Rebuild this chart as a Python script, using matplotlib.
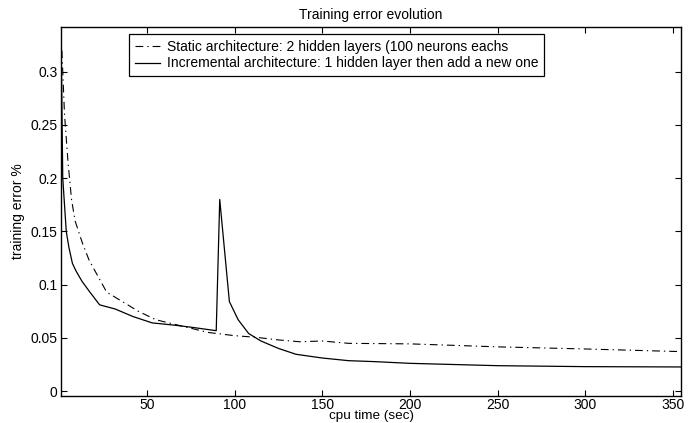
import numpy as np
import matplotlib
matplotlib.use("Agg")
import matplotlib.pyplot as plt

plt.rcParams['font.family'] = ['Liberation Sans', 'DejaVu Sans']

# static architecture (dash-dot)
static_x = [1.5, 3, 5, 7, 9, 13, 17, 22, 27, 36, 45, 55, 70, 85, 100, 112,
            125, 137, 150, 165, 200, 250, 300, 355]
static_y = [0.32, 0.26, 0.215, 0.18, 0.16, 0.14, 0.123, 0.108, 0.093, 0.084,
            0.075, 0.067, 0.061, 0.055, 0.052, 0.0505, 0.048, 0.0463, 0.047,
            0.0448, 0.0443, 0.0415, 0.0395, 0.037]

# incremental architecture (solid)
incr_x = [1.2, 2, 4, 5.5, 7.5, 9.5, 13, 17, 23, 32, 42, 53, 65, 75, 89.5,
          91.5, 97, 102, 108, 115, 125, 135, 150, 165, 180, 200, 250, 300, 355]
incr_y = [0.31, 0.20, 0.15, 0.135, 0.12, 0.113, 0.103, 0.094, 0.081, 0.077,
          0.07, 0.064, 0.062, 0.060, 0.0567, 0.18, 0.084, 0.067, 0.054, 0.047,
          0.04, 0.0345, 0.031, 0.0285, 0.0276, 0.026, 0.0238, 0.0229, 0.0226]

static_label = 'Static architecture: 2 hidden layers (100 neurons eachs'
incr_label = 'Incremental architecture: 1 hidden layer then add a new one'

x_ticks = [50, 100, 150, 200, 250, 300, 350]
y_ticks = [0, 0.05, 0.1, 0.15, 0.2, 0.25, 0.3]
y_ticklabels = ['0', '0.05', '0.1', '0.15', '0.2', '0.25', '0.3']

fs = 10

fig = plt.figure(figsize=(6.94, 4.23), dpi=100)
ax = fig.add_axes([0.0879, 0.0638, 0.8934, 0.8722])

ax.plot(static_x, static_y, color='black', linewidth=0.8,
        dashes=(7, 3.6, 1.2, 3.6), label=static_label)
ax.plot(incr_x, incr_y, color='black', linewidth=0.9, label=incr_label)

ax.set_xlim(1, 354.5)
ax.set_ylim(-0.0047, 0.342)
ax.set_xticks(x_ticks)
ax.set_yticks(y_ticks)
ax.set_yticklabels(y_ticklabels)
ax.tick_params(direction='in', top=True, right=True, length=4, width=0.8,
               labelsize=fs, pad=2.5)
ax.tick_params(axis='x', pad=1.5)
for sp in ax.spines.values():
    sp.set_linewidth(1.0)

ax.set_title('Training error evolution', fontsize=fs, pad=6)
ax.set_xlabel('cpu time (sec)', fontsize=9.7, labelpad=-1.5)
ax.set_ylabel('training error %', fontsize=fs, labelpad=4)

leg = ax.legend(loc='upper left', bbox_to_anchor=(0.1097, 0.981),
                borderaxespad=0, fontsize=fs, fancybox=False, framealpha=1,
                edgecolor='black', handlelength=1.8, handletextpad=0.5,
                labelspacing=0.2, borderpad=0.4)
leg.get_frame().set_linewidth(0.9)

plt.savefig('out.png', dpi=100)
plt.close(fig)
